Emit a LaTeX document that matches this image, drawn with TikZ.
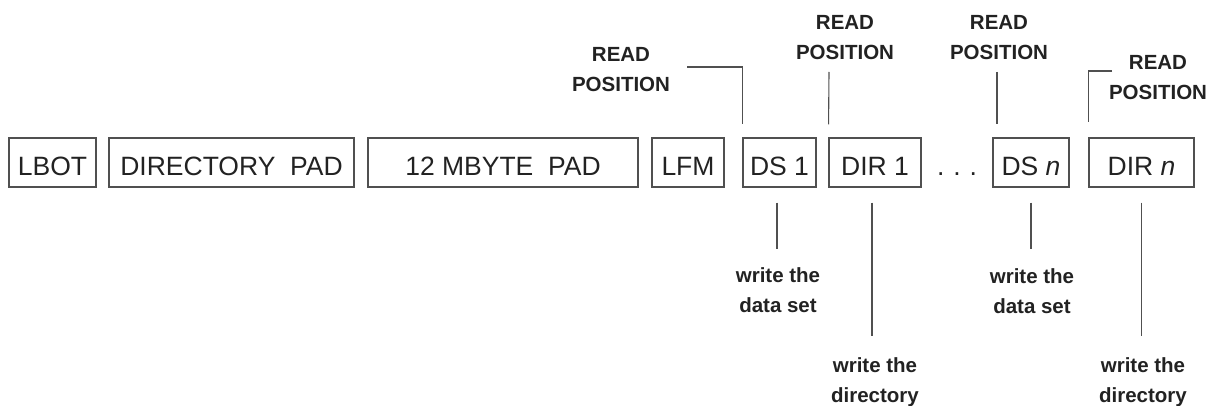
\documentclass[tikz,border=0pt]{standalone}
\usepackage{fontspec}
\setmainfont{Liberation Sans}
\definecolor{txt}{HTML}{222222}
\definecolor{ln}{HTML}{505050}
\begin{document}
\begin{tikzpicture}[x=1pt,y=-1pt,
  cell/.style={draw=ln,line width=1.1pt,text=txt,inner sep=0pt,
    font=\fontsize{26.5}{30}\selectfont,text height=27pt,text depth=0pt,minimum height=49pt},
  lab/.style={text=txt,inner sep=0pt,align=center,anchor=north,
    font=\fontsize{20.5}{30.5}\selectfont\bfseries},
  wire/.style={draw=ln,line width=1.1pt}]
\useasboundingbox (0,0) rectangle (1218,406);
% boxes
\node[cell,minimum width=87pt]  (lbot)  at (52.5,162.5) {LBOT};
\node[cell,minimum width=245pt] (dpad)  at (231.5,162.5) {DIRECTORY\ \ PAD};
\node[cell,minimum width=270pt] (mpad)  at (503,162.5) {12 MBYTE\ \ PAD};
\node[cell,minimum width=72pt]  (lfm)   at (688,162.5) {LFM};
\node[cell,minimum width=73pt]  (ds1)   at (779.5,162.5) {DS 1};
\node[cell,minimum width=92pt]  (dir1)  at (875,162.5) {DIR 1};
\node[text=txt,inner sep=0pt,font=\fontsize{26.5}{30}\selectfont,anchor=base] (dots) at (957,176) {.\,\,.\,\,.};
\node[cell,minimum width=76pt]  (dsn)   at (1031,162.5) {DS \textit{n}};
\node[cell,minimum width=105pt] (dirn)  at (1141.5,162.5) {DIR \textit{n}};
% read position labels
\node[lab] (rp1) at (621,47) {READ\\POSITION};
\node[lab] (rp2) at (845,15) {READ\\POSITION};
\node[lab] (rp3) at (999,15) {READ\\POSITION};
\node[lab] (rp4) at (1158,55) {READ\\POSITION};
% write labels
\node[lab] (wd1) at (778,267) {write the\\data set};
\node[lab] (wr1) at (875,357) {write the\\directory};
\node[lab] (wd2) at (1032,268) {write the\\data set};
\node[lab] (wr2) at (1143,357) {write the\\directory};
% read position connectors
\coordinate (a1) at (687,67);
\coordinate (a2) at (829,72);
\coordinate (a3) at (997,72);
\coordinate (a4) at (1112,71);
\draw[wire,shorten >=13pt] (a1) -| (ds1.north west);
\draw[wire,shorten >=13pt] (a2) -- (dir1.north west);
\draw[wire,shorten >=13pt] (a3) -- (a3 |- dsn.north);
\draw[wire,shorten >=15pt] (a4) -| (dirn.north west);
% write connectors
\draw[wire] ([xshift=-2.5pt]ds1.south) ++(0,15) -- ++(0,46);
\draw[wire] ([xshift=-3pt]dir1.south) ++(0,15) -- ++(0,133);
\draw[wire] (dsn.south) ++(0,15) -- ++(0,46);
\draw[wire] (dirn.south) ++(0,15) -- ++(0,133);
\end{tikzpicture}
\end{document}
